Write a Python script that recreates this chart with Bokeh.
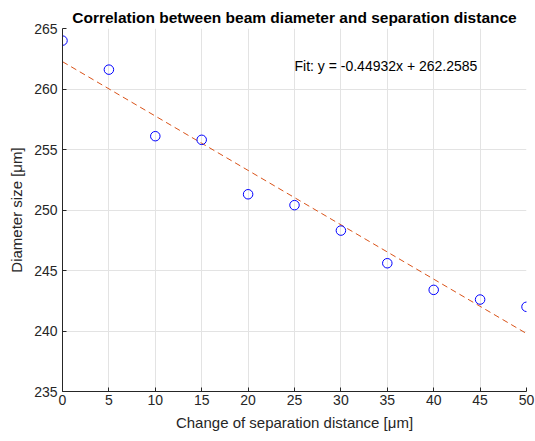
from bokeh.plotting import figure
from bokeh.models import Label, FixedTicker
from bokeh.embed import file_html
from bokeh.resources import INLINE

separation = [0, 5, 10, 15, 20, 25, 30, 35, 40, 45, 50]
diameter = [264.0, 261.6, 256.1, 255.8, 251.3, 250.4, 248.3, 245.6, 243.4, 242.6, 242.0]
fit_slope = -0.44932
fit_intercept = 262.2585
x_ticks = [0, 5, 10, 15, 20, 25, 30, 35, 40, 45, 50]
y_ticks = [235, 240, 245, 250, 255, 260, 265]

FONT = "Liberation Sans"
AX = "#262626"

p = figure(width=535, height=441, x_range=(0, 50), y_range=(235, 265),
           output_backend="svg", toolbar_location=None,
           min_border_left=62, min_border_right=9, min_border_top=28,
           min_border_bottom=50,
           title="Correlation between beam diameter and separation distance")
p.outline_line_color = None
p.background_fill_color = "white"
p.border_fill_color = "white"

p.title.align = "center"
p.title.text_font = FONT
p.title.text_font_size = "15.5px"
p.title.text_font_style = "bold"
p.title.text_color = "black"
p.title.offset = 0
p.title.standoff = 5

for ax in (p.xaxis[0], p.yaxis[0]):
    ax.axis_line_color = AX
    ax.major_tick_line_color = AX
    ax.major_tick_in = 4
    ax.major_tick_out = 0
    ax.minor_tick_line_color = None
    ax.major_label_text_font = FONT
    ax.major_label_text_font_size = "14px"
    ax.major_label_text_color = AX
    ax.axis_label_text_font = FONT
    ax.axis_label_text_font_size = "15px"
    ax.axis_label_text_font_style = "normal"
    ax.axis_label_text_color = AX

p.xaxis.ticker = FixedTicker(ticks=x_ticks)
p.yaxis.ticker = FixedTicker(ticks=y_ticks)
p.xaxis.major_label_standoff = 3
p.yaxis.major_label_standoff = 5
p.xaxis.axis_label = "Change of separation distance [\u03bcm]"
p.yaxis.axis_label = "Diameter size [\u03bcm]"
p.xaxis.axis_label_standoff = 6
p.yaxis.axis_label_standoff = 6

p.xgrid.grid_line_color = "#e3e3e3"
p.ygrid.grid_line_color = "#e3e3e3"
p.xgrid.ticker = FixedTicker(ticks=x_ticks)
p.ygrid.ticker = FixedTicker(ticks=y_ticks)

fit_x = [separation[0], separation[-1]]
fit_y = [fit_slope * v + fit_intercept for v in fit_x]
p.line(fit_x, fit_y, line_color="#D95319", line_dash="6 4", line_width=1)

p.scatter(separation, diameter, marker="circle", size=9.5, fill_color=None,
          line_color="#0000ff", line_width=1)

p.add_layout(Label(x=25, y=261.9, text=f"Fit: y = {fit_slope}x + {fit_intercept}",
                   text_font=FONT, text_font_size="14px", text_color="black",
                   text_baseline="middle", text_align="left"))

open("out.html", "w").write(file_html(p, INLINE))
